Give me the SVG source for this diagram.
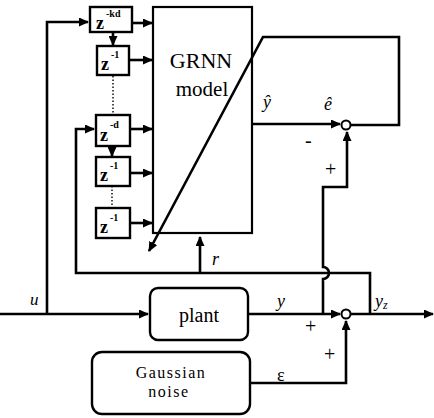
<svg xmlns="http://www.w3.org/2000/svg" width="434" height="418" viewBox="0 0 434 418">
<defs>
<marker id="ah" markerUnits="userSpaceOnUse" markerWidth="10" markerHeight="9" refX="9" refY="4.5" orient="auto">
<path d="M0,0 L10,4.5 L0,9 Z" fill="#000"/>
</marker>
</defs>
<style>
.ln{fill:none;stroke:#000;stroke-width:2.6}
.bx{fill:#fff;stroke:#000;stroke-width:2.4}
.dot{fill:none;stroke:#000;stroke-width:1.4;stroke-dasharray:1.5 2}
.t{font-family:"Liberation Serif",serif;fill:#000}
.z{font-family:"Liberation Serif",serif;font-size:18px;font-weight:bold;fill:#000}
.s{font-family:"Liberation Serif",serif;font-size:10px;font-weight:bold;fill:#000}
.i{font-family:"Liberation Serif",serif;font-style:italic;fill:#000}
</style>
<rect width="434" height="418" fill="#fff"/>

<g id="connectors">
<path class="ln" d="M0,314 H148" marker-end="url(#ah)"/>
<path class="ln" d="M47,314 V22 H88" marker-end="url(#ah)"/>
<path class="ln" d="M113,32 V45" marker-end="url(#ah)"/>
<path class="dot" d="M113,76 V114"/>
<path class="ln" d="M112,146 V156" marker-end="url(#ah)"/>
<path class="dot" d="M112,186 V207"/>
<path class="ln" d="M132,23 H152" marker-end="url(#ah)"/>
<path class="ln" d="M129,60 H152" marker-end="url(#ah)"/>
<path class="ln" d="M130,129 H152" marker-end="url(#ah)"/>
<path class="ln" d="M130,173 H152" marker-end="url(#ah)"/>
<path class="ln" d="M130,223 H152" marker-end="url(#ah)"/>
<path class="ln" d="M370,314 V273 H76 V129 H94" marker-end="url(#ah)"/>
<path class="ln" d="M200,273 V237" marker-end="url(#ah)"/>
<path class="ln" d="M252,124 H340" marker-end="url(#ah)"/>
<path class="ln" d="M323,314 V279 A6,6 0 0 0 323,267 V187 H347 V132" marker-end="url(#ah)"/>
<path class="ln" d="M351,125 H399 V37 H263 L149,251" marker-end="url(#ah)"/>
<path class="ln" d="M248,314 H340" marker-end="url(#ah)"/>
<path class="ln" d="M250,383 H346 V321" marker-end="url(#ah)"/>
<path class="ln" d="M351,314 H433" marker-end="url(#ah)"/>
</g>

<g id="delay1">
<rect class="bx" x="90" y="7" width="42" height="25"/>
<text class="z" x="96" y="29">z</text><text class="s" x="106" y="17">-kd</text>
</g>
<g id="delay2">
<rect class="bx" x="97" y="46" width="32" height="29"/>
<text class="z" x="101" y="70">z</text><text class="s" x="111" y="58">-1</text>
</g>
<g id="delay3">
<rect class="bx" x="96" y="115" width="34" height="31"/>
<text class="z" x="100" y="141">z</text><text class="s" x="110" y="128">-d</text>
</g>
<g id="delay4">
<rect class="bx" x="96" y="157" width="34" height="29"/>
<text class="z" x="100" y="181">z</text><text class="s" x="110" y="169">-1</text>
</g>
<g id="delay5">
<rect class="bx" x="96" y="208" width="34" height="30"/>
<text class="z" x="100" y="233">z</text><text class="s" x="110" y="221">-1</text>
</g>

<g id="grnn">
<rect x="153" y="7" width="99" height="226" fill="none" stroke="#000" stroke-width="2.2"/>
<text class="t" x="201" y="68" font-size="22" text-anchor="middle">GRNN</text>
<text class="t" x="202" y="96" font-size="21" text-anchor="middle">model</text>
</g>

<g id="sum_error">
<circle cx="346" cy="125" r="4.5" fill="#fff" stroke="#000" stroke-width="2"/>
</g>

<g id="plant">
<rect class="bx" x="150" y="288" width="98" height="52" rx="8"/>
<text class="t" x="199" y="322" font-size="20" text-anchor="middle">plant</text>
</g>

<g id="noise">
<rect class="bx" x="92" y="352" width="158" height="62" rx="10"/>
<text class="t" x="171" y="378" font-size="16" letter-spacing="1.5" text-anchor="middle">Gaussian</text>
<text class="t" x="169" y="397" font-size="16" letter-spacing="1.5" text-anchor="middle">noise</text>
</g>

<g id="sum_out">
<circle cx="346" cy="314" r="4.5" fill="#fff" stroke="#000" stroke-width="2"/>
</g>

<g id="labels">
<text class="i" x="263" y="108" font-size="18">ŷ</text>
<text class="i" x="324" y="110" font-size="18">ê</text>
<text class="t" x="305" y="147" font-size="20">-</text>
<text class="t" x="325" y="176" font-size="20">+</text>
<text class="i" x="212" y="265" font-size="18">r</text>
<text class="i" x="30" y="305" font-size="17">u</text>
<text class="i" x="277" y="307" font-size="18">y</text>
<text class="i" x="375" y="307" font-size="18">y<tspan font-size="12" dy="2">z</tspan></text>
<text class="t" x="305" y="333" font-size="20">+</text>
<text class="t" x="324" y="361" font-size="20">+</text>
<text class="t" x="277" y="381" font-size="18">ε</text>
</g>
</svg>
